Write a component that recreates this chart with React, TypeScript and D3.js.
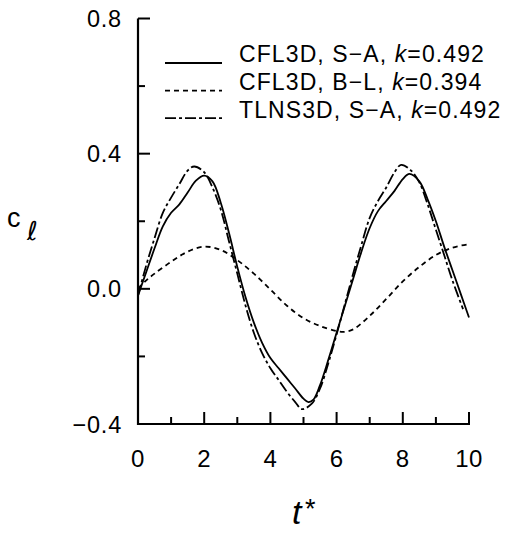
import React from "react";
import * as d3 from "d3";

const saT = [0, 0.25, 0.5, 0.75, 1.0, 1.25, 1.5, 1.75, 2.0, 2.25, 2.5, 2.75, 3.0, 3.25, 3.5, 3.75, 4.0, 4.25, 4.5, 4.75, 5.0, 5.15, 5.3, 5.5, 5.75, 6.0, 6.25, 6.5, 6.75, 7.0, 7.25, 7.5, 7.75, 8.0, 8.2, 8.5, 8.75, 9.0, 9.25, 9.5, 9.75, 10.0];
const saCl = [-0.02, 0.05, 0.12, 0.185, 0.225, 0.25, 0.285, 0.32, 0.335, 0.318, 0.255, 0.165, 0.065, -0.025, -0.1, -0.16, -0.205, -0.235, -0.265, -0.295, -0.325, -0.335, -0.328, -0.285, -0.21, -0.13, -0.05, 0.03, 0.11, 0.18, 0.23, 0.26, 0.29, 0.325, 0.34, 0.318, 0.265, 0.2, 0.125, 0.055, -0.015, -0.085];

const blT = [0, 0.25, 0.5, 1.0, 1.5, 2.0, 2.5, 3.0, 3.5, 4.0, 4.5, 5.0, 5.5, 6.0, 6.25, 6.5, 7.0, 7.5, 8.0, 8.5, 9.0, 9.5, 10.0];
const blCl = [0.0, 0.025, 0.045, 0.08, 0.11, 0.125, 0.115, 0.085, 0.045, -0.002, -0.05, -0.087, -0.11, -0.125, -0.127, -0.12, -0.08, -0.03, 0.022, 0.065, 0.1, 0.122, 0.132];

const tlT = [0, 0.25, 0.5, 0.75, 1.0, 1.25, 1.5, 1.7, 2.0, 2.25, 2.5, 2.75, 3.0, 3.25, 3.5, 3.75, 4.0, 4.25, 4.5, 4.75, 4.95, 5.25, 5.5, 5.75, 6.0, 6.25, 6.5, 6.75, 7.0, 7.25, 7.5, 7.75, 7.95, 8.25, 8.5, 8.75, 9.0, 9.25, 9.5, 9.82];
const tlCl = [-0.02, 0.07, 0.15, 0.225, 0.27, 0.31, 0.35, 0.362, 0.345, 0.3, 0.235, 0.14, 0.045, -0.05, -0.13, -0.19, -0.235, -0.27, -0.305, -0.335, -0.356, -0.34, -0.295, -0.22, -0.135, -0.045, 0.045, 0.13, 0.21, 0.26, 0.3, 0.345, 0.367, 0.35, 0.315, 0.25, 0.175, 0.1, 0.025, -0.06];

const xTicks = [0, 2, 4, 6, 8, 10];
const xMinor = [1, 3, 5, 7, 9];
const yTicks = [-0.4, 0.0, 0.4, 0.8];
const yMinor = [-0.2, 0.2, 0.6];
const yLabels = ["\u22120.4", "0.0", "0.4", "0.8"];

const legendLabels = [
  ["CFL3D, S\u2212A, ", "=0.492"],
  ["CFL3D, B\u2212L, ", "=0.394"],
  ["TLNS3D, S\u2212A, ", "=0.492"],
];
const dashes = ["none", "5 4", "11 3 3 3"];

export default function App() {
  const x = d3.scaleLinear().domain([0, 10]).range([138, 469]);
  const y = d3.scaleLinear().domain([-0.4, 0.8]).range([424, 18.5]);
  const line = d3
    .line<[number, number]>()
    .x((d) => x(d[0]))
    .y((d) => y(d[1]))
    .curve(d3.curveCatmullRom.alpha(0.5));
  const series = [
    saT.map((t, i) => [t, saCl[i]] as [number, number]),
    blT.map((t, i) => [t, blCl[i]] as [number, number]),
    tlT.map((t, i) => [t, tlCl[i]] as [number, number]),
  ];
  const font = "'Liberation Sans', Arial, Helvetica, sans-serif";
  const x0 = x(0);
  const yb = y(-0.4);
  return (
    <svg
      width={507}
      height={533}
      style={{ position: "absolute", left: 0, top: 0, background: "#fff" }}
      fontFamily={font}
    >
      <rect width={507} height={533} fill="#fff" />
      {/* axes */}
      <line x1={x0} x2={x0} y1={y(0.8)} y2={yb + 1} stroke="#000" strokeWidth={2.2} />
      <line x1={x0 - 1} x2={x(10) + 1} y1={yb} y2={yb} stroke="#000" strokeWidth={2.2} />
      {yTicks.map((v) => (
        <line key={"yt" + v} x1={x0} x2={x0 + 12} y1={y(v)} y2={y(v)} stroke="#000" strokeWidth={2} />
      ))}
      {yMinor.map((v) => (
        <line key={"ym" + v} x1={x0} x2={x0 + 7} y1={y(v)} y2={y(v)} stroke="#000" strokeWidth={2} />
      ))}
      {xTicks.filter((v) => v > 0).map((v) => (
        <line key={"xt" + v} x1={x(v)} x2={x(v)} y1={yb} y2={yb - 12} stroke="#000" strokeWidth={2} />
      ))}
      {xMinor.map((v) => (
        <line key={"xm" + v} x1={x(v)} x2={x(v)} y1={yb} y2={yb - 7} stroke="#000" strokeWidth={2} />
      ))}
      {yTicks.map((v, i) => (
        <text key={"yl" + v} x={122} y={y(v) + 8.5} fontSize={23.5} textAnchor="end" letterSpacing={0.8}>
          {yLabels[i]}
        </text>
      ))}
      {xTicks.map((v) => (
        <text key={"xl" + v} x={x(v)} y={466.5} fontSize={24} textAnchor="middle" letterSpacing={0.5}>
          {String(v)}
        </text>
      ))}
      {/* axis titles */}
      <text x={7} y={227} fontSize={27}>c</text>
      <text x={27} y={240} fontSize={26} fontStyle="italic" fontFamily="'DejaVu Sans', sans-serif">
        {"\u2113"}
      </text>
      <text x={292} y={524} fontSize={34} fontStyle="italic">t</text>
      <text x={305} y={518} fontSize={27}>*</text>
      {/* curves */}
      {series.map((s, i) => (
        <path
          key={"s" + i}
          d={line(s) || ""}
          fill="none"
          stroke="#000"
          strokeWidth={1.8}
          strokeDasharray={dashes[i]}
        />
      ))}
      {/* legend */}
      {legendLabels.map((lab, i) => {
        const ly = 63 + i * 27.6;
        return (
          <g key={"lg" + i}>
            <line x1={165} x2={222} y1={ly} y2={ly} stroke="#000" strokeWidth={1.8} strokeDasharray={dashes[i]} />
            <text x={239} y={61.7 + i * 28.3} fontSize={23} letterSpacing={1.1}>
              {lab[0]}
              <tspan fontStyle="italic">k</tspan>
              {lab[1]}
            </text>
          </g>
        );
      })}
    </svg>
  );
}
